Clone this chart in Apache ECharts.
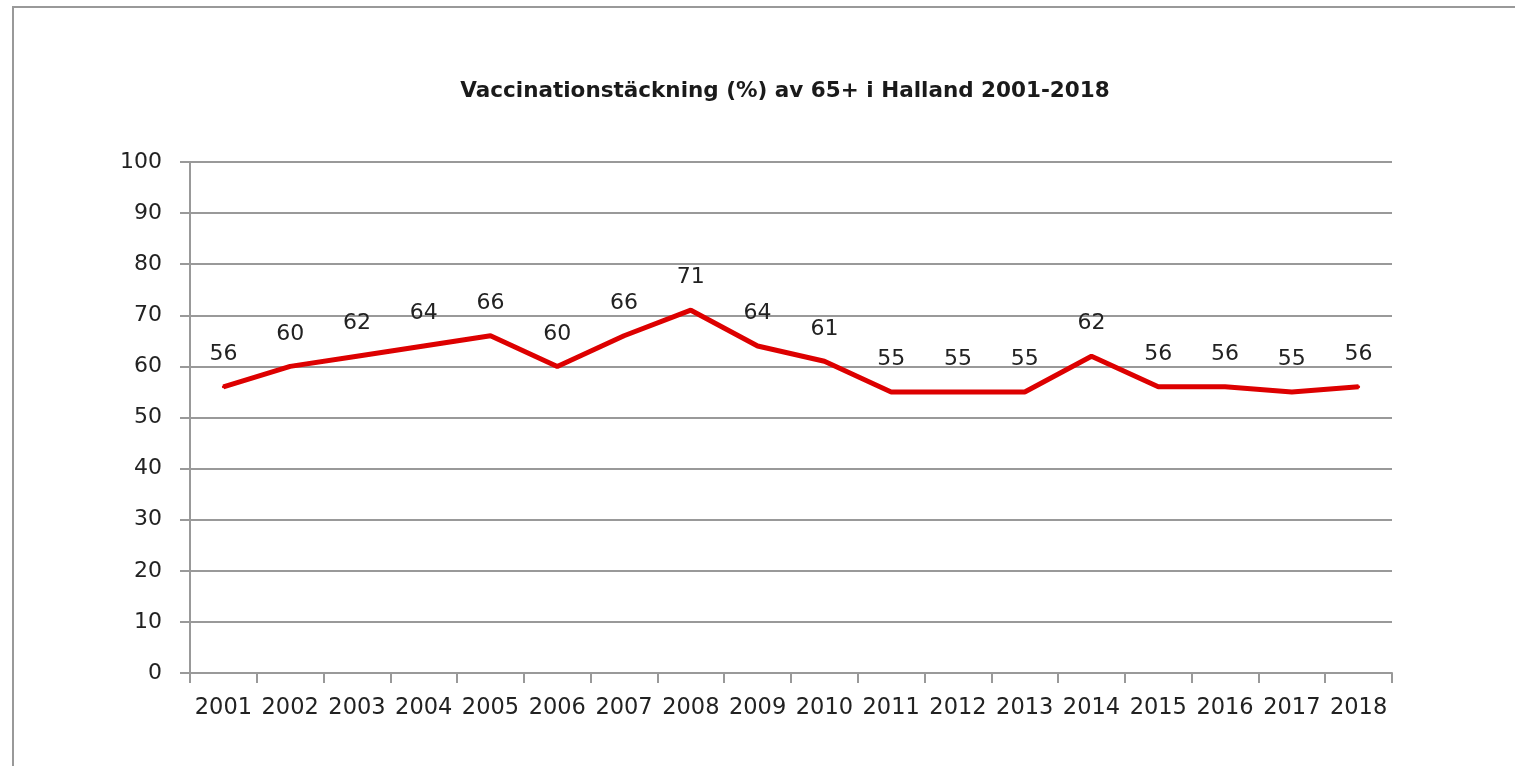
<!DOCTYPE html>
<html lang="sv">
<head>
    <meta charset="UTF-8" />
    <title>Vaccinationstäckning</title>
    <script src="https://cdn.jsdelivr.net/npm/echarts@6/dist/echarts.min.js"></script>
    <style>
        html, body { margin: 0; padding: 0; background: #fff; }
        #main { width: 1515px; height: 766px; }
    </style>
</head>
<body>
    <div id="main"></div>
    <script>
        var years = ["2001", "2002", "2003", "2004", "2005", "2006", "2007", "2008", "2009",
            "2010", "2011", "2012", "2013", "2014", "2015", "2016", "2017", "2018"];
        var coverage = [56, 60, 62, 64, 66, 60, 66, 71, 64, 61, 55, 55, 55, 62, 56, 56, 55, 56];
        var yMin = 0, yMax = 100, yStep = 10;

        var font = "DejaVu Sans";
        var chart = echarts.init(document.getElementById("main"));

        var option = {
            animation: false,
            title: {
                text: "Vaccinationstäckning (%) av 65+ i Halland 2001-2018",
                left: 780,
                top: 75,
                textAlign: "center",
                textStyle: { fontFamily: font, fontWeight: "bold", fontSize: 21.5, color: "#1a1a1a" }
            },
            grid: { left: 190, right: 123, top: 162, bottom: 93 },
            xAxis: {
                type: "category",
                data: years,
                boundaryGap: true,
                axisLine: { lineStyle: { color: "#999", width: 2 } },
                axisTick: { show: true, length: 10, interval: 0, lineStyle: { color: "#999", width: 2 } },
                axisLabel: { interval: 0, margin: 24, fontFamily: font, fontSize: 22.5, color: "#222" }
            },
            yAxis: {
                type: "value",
                min: yMin,
                max: yMax,
                interval: yStep,
                axisLine: { show: true, lineStyle: { color: "#999", width: 2 } },
                axisTick: { show: true, length: 10, lineStyle: { color: "#999", width: 2 } },
                axisLabel: { margin: 28, fontFamily: font, fontSize: 22, color: "#222" },
                splitLine: { lineStyle: { color: "#999", width: 2 } }
            },
            series: [{
                type: "line",
                data: coverage,
                symbol: "circle",
                symbolSize: 3,
                showSymbol: true,
                showAllSymbol: true,
                itemStyle: { color: "#dd0000" },
                lineStyle: { color: "#dd0000", width: 5 },
                label: {
                    show: true,
                    position: "top",
                    distance: 20,
                    fontFamily: font,
                    fontSize: 22,
                    color: "#222"
                }
            }],
            graphic: [
                { type: "line", shape: { x1: 13, y1: 7, x2: 13, y2: 766 }, style: { stroke: "#999", lineWidth: 2 } },
                { type: "line", shape: { x1: 12, y1: 7, x2: 1515, y2: 7 }, style: { stroke: "#999", lineWidth: 2 } }
            ]
        };
        chart.setOption(option);
    </script>
</body>
</html>
